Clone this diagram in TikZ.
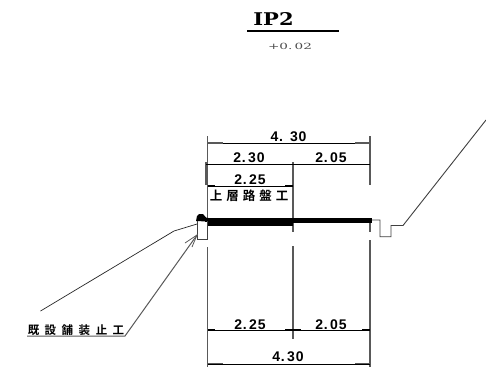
\documentclass[tikz,border=0pt]{standalone}
\usepackage{fontspec}
\setmainfont{Liberation Sans}
\newfontfamily\cjk{Noto Sans CJK JP}[BoldFont={Noto Sans CJK JP Bold}]
\newfontfamily\dimf{Liberation Sans}[LetterSpace=6]
\newfontfamily\serf{DejaVu Serif}
\begin{document}
\begin{tikzpicture}[x=1pt,y=-1pt,
  dimline/.style={black,line width=0.8pt},
  ext/.style={black!65,line width=1.1pt},
  geo/.style={black!75,line width=0.9pt},
  dimtext/.style={inner sep=0pt,font=\dimf\fontsize{14}{15}\selectfont\bfseries},
  jp/.style={inner sep=0pt,font=\cjk\fontsize{12.5}{13}\selectfont\bfseries}]
\useasboundingbox (0,0) rectangle (486,367);
\fill[white] (0,0) rectangle (486,367);
% title
\node[inner sep=0pt,font=\serf\fontsize{17.5}{18}\selectfont\bfseries] (title) at (273.5,19.5) {\scalebox{1.2}[1]{IP2}};
\coordinate (tl) at (247,31); \coordinate (tr) at (339,31);
\draw[black,line width=1.2pt] (tl) -- (tr);
\node[inner sep=0pt,text=black!70,font=\serf\fontsize{8.5}{9}\selectfont] (elev) at (290,46) {\scalebox{1.6}[1]{+0.\,02}};
% extension lines
\coordinate (a1) at (207.7,136); \coordinate (a2) at (207.7,222);
\coordinate (a3) at (207.7,247); \coordinate (a4) at (207.7,367);
\coordinate (b1) at (206,162); \coordinate (b2) at (206,185);
\coordinate (c1) at (293,162); \coordinate (c2) at (293,232);
\coordinate (c3) at (293,246); \coordinate (c4) at (293,339);
\coordinate (d1) at (370,136); \coordinate (d2) at (370,185);
\coordinate (d3) at (370,222); \coordinate (d4) at (370,232);
\coordinate (d5) at (370,240); \coordinate (d6) at (370,367);
\draw[ext] (a1) -- (a2); \draw[ext] (a3) -- (a4);
\draw[ext] (b1) -- (b2);
\draw[ext] (c1) -- (c2); \draw[ext] (c3) -- (c4);
\draw[ext] (d1) -- (d2); \draw[ext] (d3) -- (d4); \draw[ext] (d5) -- (d6);
% dimension lines
\draw[dimline] (207.7,143.5) -- (370,143.5);
\draw[dimline] (206,164.5) -- (370,164.5);
\draw[dimline] (207.7,186) -- (293,186);
\draw[dimline] (207.7,330) -- (370,330);
\draw[dimline] (207.7,364) -- (370,364);
% ticks
\draw[black!65,line width=1.4pt] (207.7,142.8) -- (223,142.8) (355,142.8) -- (370,142.8)
  (207.7,363.4) -- (223,363.4) (355,363.4) -- (370,363.4);
\draw[black,line width=1.3pt] (208,185.5) -- (215,185.5) (285,185.5) -- (293,185.5)
  (208,329.7) -- (215,329.7) (285,329.7) -- (301,329.7) (362,329.7) -- (370,329.7);
% dimension texts
\node[dimtext] (t1) at (288.5,137) {4.\,\,\,30};
\node[dimtext] (t2) at (249,158) {2.\,30};
\node[dimtext] (t3) at (331,158) {2.\,05};
\node[dimtext] (t4) at (250,180) {2.\,25};
\node[dimtext] (t5) at (250,324.5) {2.\,25};
\node[dimtext] (t6) at (331,324.5) {2.\,05};
\node[dimtext] (t7) at (288,357) {4.\,30};
\node[jp] (j1) at (249,195.5) {上\hspace{4pt}層\hspace{4pt}路\hspace{4pt}盤\hspace{4pt}工};
\node[jp,font=\cjk\fontsize{11.5}{12}\selectfont\bfseries] (j2) at (76,330) {既\hspace{5.5pt}設\hspace{5.5pt}舗\hspace{5.5pt}装\hspace{5.5pt}止\hspace{5.5pt}工};
% pavement
\draw[black,line width=7.5pt] (205,222) -- (293,222);
\draw[black,line width=5pt] (293,220.8) -- (372,220.8);
\fill[black] (196,221) -- (197,216) -- (199,214) -- (203,214) -- (206,217.5) -- (210,218.3) -- (210,224) -- (207,221.5) -- cycle;
% kerb
\fill[white] (197.5,221.5) rectangle (207.2,238.5);
\draw[geo] (197,221) -- (197,239) -- (207.7,239) -- (207.7,221);
% side ditch and slope
\coordinate (r0) at (372,220); \coordinate (r1) at (380,220); \coordinate (r2) at (380,236.7);
\coordinate (r3) at (391,236.7); \coordinate (r4) at (391,225.5); \coordinate (r5) at (403,225.5);
\coordinate (r6) at (486,120);
\draw[geo] (r0) -- (r1) -- (r2) -- (r3) -- (r4) -- (r5) -- (r6);
% leaders
\coordinate (l1) at (40.5,311); \coordinate (l2) at (174,231); \coordinate (l3) at (197,224);
\draw[black!85,line width=0.7pt] (l1) -- (l2) -- (l3);
\coordinate (m1) at (27,336); \coordinate (m2) at (125,336); \coordinate (m3) at (197,235);
\draw[black!65,line width=1pt] (m1) -- (m2) -- (m3);
\draw[black!65,line width=0.8pt] (185,243) -- (m3) -- (192,247);
\end{tikzpicture}
\end{document}
